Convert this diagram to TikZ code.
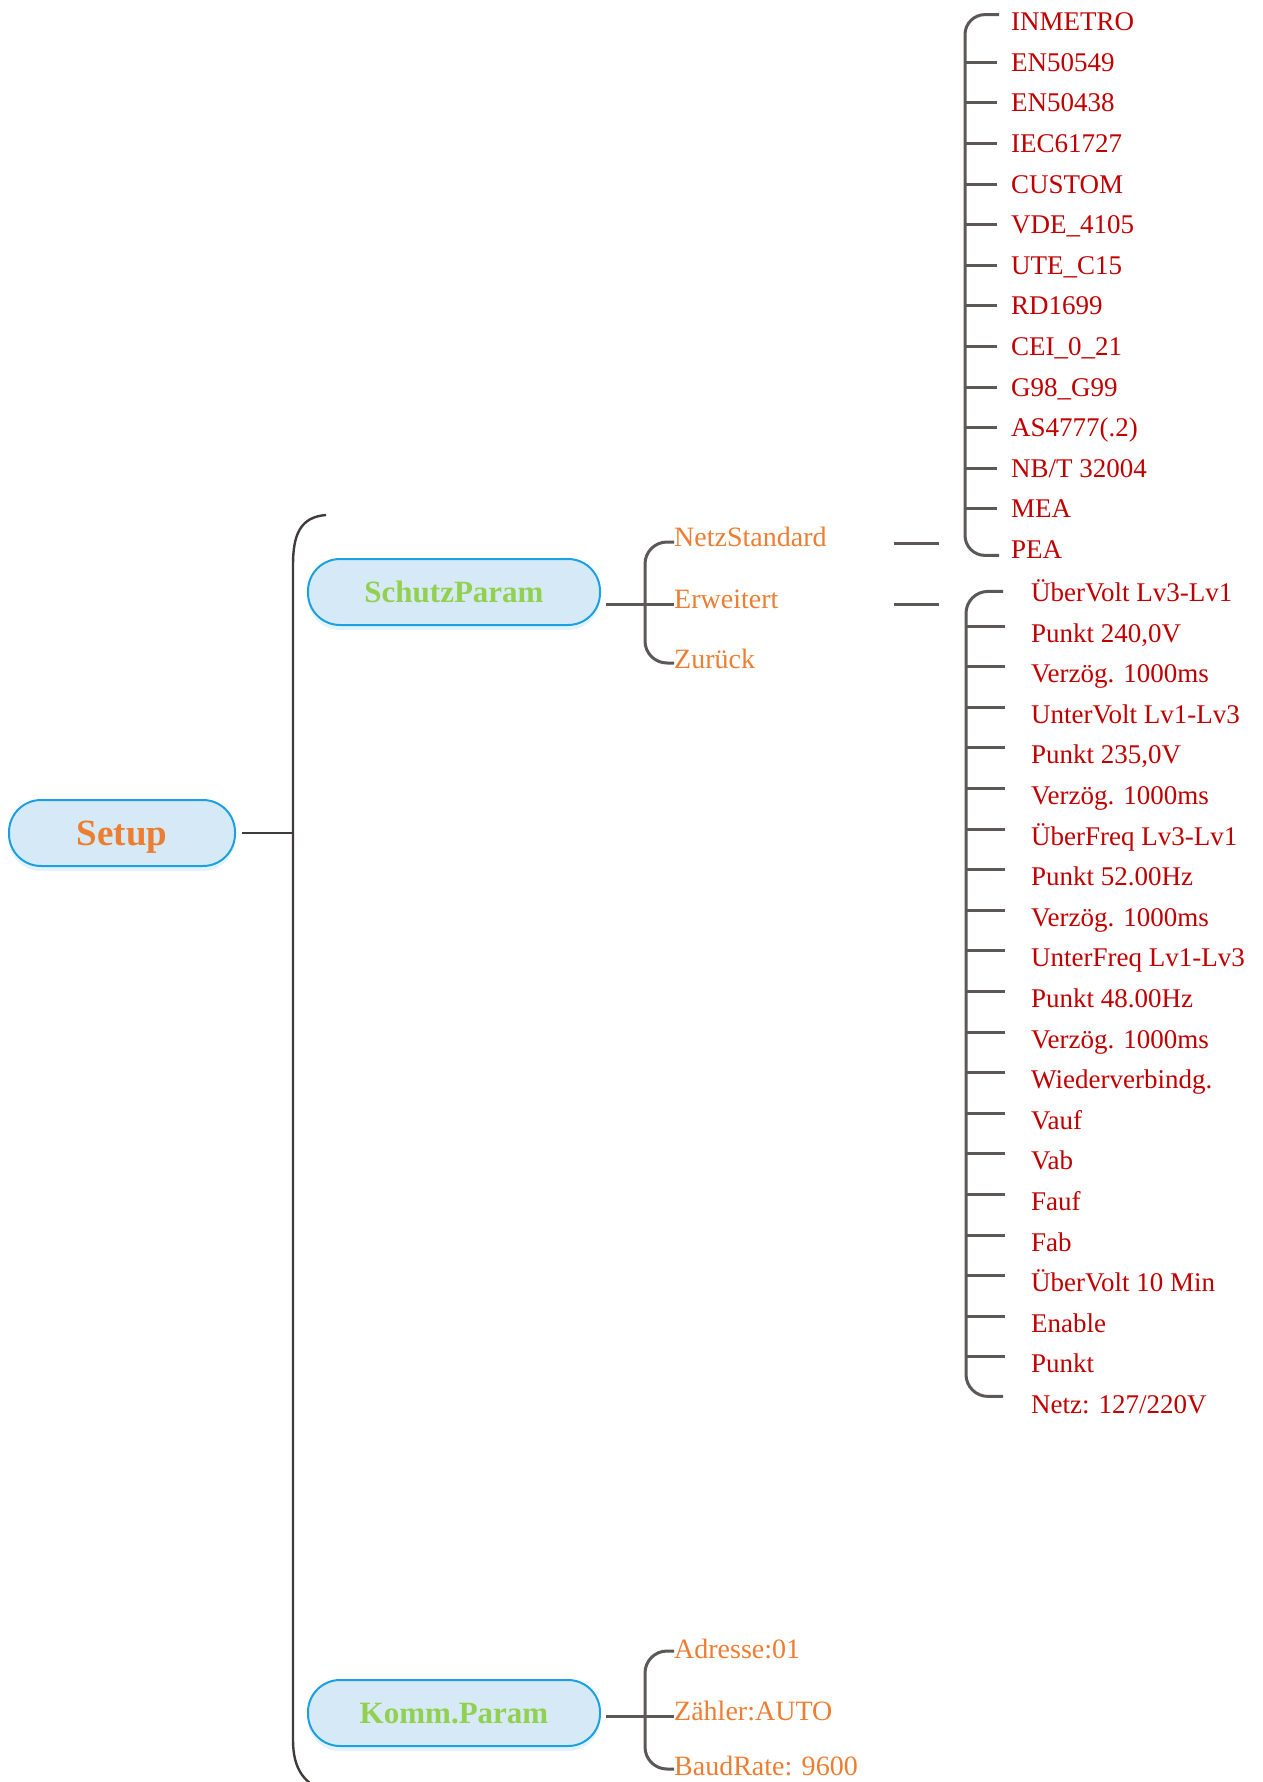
\documentclass[tikz,border=0pt]{standalone}
\usepackage{fontspec}
\setmainfont{Liberation Serif}
\usetikzlibrary{positioning,calc,shadows}

\definecolor{boxfill}{HTML}{D5EAF6}
\definecolor{boxline}{HTML}{1BA1E2}
\definecolor{menuorange}{HTML}{ED7D31}
\definecolor{menugreen}{HTML}{92D050}
\definecolor{menured}{HTML}{C00000}
\definecolor{branchgray}{HTML}{5C5858}
\definecolor{trunkgray}{HTML}{403A3A}

\tikzset{
  menubox/.style={draw=boxline, line width=2pt, fill=boxfill, rounded corners=32pt,
    minimum width=292pt, minimum height=66pt, inner sep=0pt, text depth=0pt, text=menugreen,
    font=\bfseries\fontsize{31}{31}\selectfont,
    drop shadow={shadow xshift=0pt, shadow yshift=-5pt, fill=boxline!35, opacity=0.35}},
  sublabel/.style={anchor=base west, inner sep=0pt, text=menuorange, font=\fontsize{28}{28}\selectfont},
  itemlabel/.style={anchor=base west, inner sep=0pt, text=menured, font=\fontsize{27}{27}\selectfont},
  branch/.style={draw=branchgray, line width=3pt},
  trunk/.style={draw=trunkgray, line width=2.4pt},
}

\begin{document}
\begin{tikzpicture}[x=1pt, y=-1pt]
    \useasboundingbox (0,0) rectangle (1262,1782);

    % the three menu boxes
    \node[menubox, minimum width=226pt, text=menuorange, font=\bfseries\fontsize{37}{37}\selectfont] (setup) at (122,833) {Setup};
    \node[menubox] (schutz) at (454,592) {SchutzParam};
    \node[menubox] (komm) at (454,1713) {Komm.Param};

    % trunk
    \coordinate (trunk) at (293,833);
    \coordinate (trunktop) at (326,515);
    \coordinate (trunkbot) at (328,1792);
    \draw[trunk] ([xshift=6pt]setup.east) -- (trunk);
    \draw[trunk] (trunktop) .. controls (300,517) and (293,535) .. (293,565) -- (293,1740) .. controls (293,1770) and (305,1785) .. (trunkbot);

    % SchutzParam
    \node[sublabel] (netz) at (674,546) {NetzStandard};
    \node[sublabel] (erw) at (674,608) {Erweitert};
    \node[sublabel] (zur) at (674,668) {Zurück};
    \coordinate (schutzspine) at (645,0);
    \coordinate (erwtip) at ($(erw.base west)+(0,-4)$);
    \draw[branch] ($(schutz.east |- erwtip)+(5,0)$) -- (erwtip);
    \draw[branch, rounded corners=22pt] ($(netz.base west)+(0,-4)$) -| ($(schutzspine |- zur.base west)+(0,-5)$) -- ($(zur.base west)+(0,-5)$);

    % Komm.Param
    \node[sublabel] (adr) at (674,1658) {Adresse:01};
    \node[sublabel] (zaehl) at (674,1720) {Zähler:AUTO};
    \node[sublabel] (baud) at (674,1775) {BaudRate: 9600};
    \coordinate (kommspine) at (645,0);
    \coordinate (zaehltip) at ($(zaehl.base west)+(0,-4)$);
    \draw[branch] ($(komm.east |- zaehltip)+(5,0)$) -- (zaehltip);
    \draw[branch, rounded corners=22pt] ($(adr.base west)+(0,-7)$) -| ($(kommspine |- baud.base west)+(0,-6)$) -- ($(baud.base west)+(0,-6)$);

    % short dashes
    \coordinate (dashl) at (894,0);
    \coordinate (dashr) at (939,0);
    \draw[branch] ($(dashl |- netz.base west)+(0,-3)$) -- ($(dashr |- netz.base west)+(0,-3)$);
    \draw[branch] ($(dashl |- erw.base west)+(0,-4)$) -- ($(dashr |- erw.base west)+(0,-4)$);

    % NetzStandard list
    \coordinate (nsspine) at (965,0);
    \foreach \lbl [count=\i] in {INMETRO, EN50549, EN50438, IEC61727, CUSTOM, VDE\_4105, UTE\_C15, RD1699, CEI\_0\_21, G98\_G99, AS4777(.2), NB/T 32004, MEA, PEA}
      \node[itemlabel] (ns\i) at (1011,{30.6+40.6*(\i-1)}) {\lbl};
    \foreach \i in {2,...,13}
      \draw[branch] ($(nsspine |- ns\i.base west)+(0,-9)$) -- ($(ns\i.base west)+(-14,-9)$);
    \draw[branch, rounded corners=20pt] ($(ns1.base west)+(-12,-16)$) -| ($(nsspine |- ns14.base west)+(0,-3)$) -- ($(ns14.base west)+(-12,-3)$);

    % Erweitert list
    \coordinate (ewspine) at (966,0);
    \foreach \lbl [count=\i] in {ÜberVolt Lv3-Lv1, {Punkt 240,0V}, Verzög. 1000ms, UnterVolt Lv1-Lv3, {Punkt 235,0V}, Verzög. 1000ms, ÜberFreq Lv3-Lv1, Punkt 52.00Hz, Verzög. 1000ms, UnterFreq Lv1-Lv3, Punkt 48.00Hz, Verzög. 1000ms, Wiederverbindg., Vauf, Vab, Fauf, Fab, ÜberVolt 10 Min, Enable, Punkt, Netz: 127/220V}
      \node[itemlabel] (ew\i) at (1031,{601.4+40.6*(\i-1)}) {\lbl};
    \foreach \i in {2,...,20}
      \draw[branch] ($(ewspine |- ew\i.base west)+(0,-16)$) -- ($(ew\i.base west)+(-26,-16)$);
    \draw[branch, rounded corners=22pt] ($(ew1.base west)+(-28,-10)$) -| ($(ewspine |- ew21.base west)+(0,-17)$) -- ($(ew21.base west)+(-28,-17)$);
\end{tikzpicture}
\end{document}
